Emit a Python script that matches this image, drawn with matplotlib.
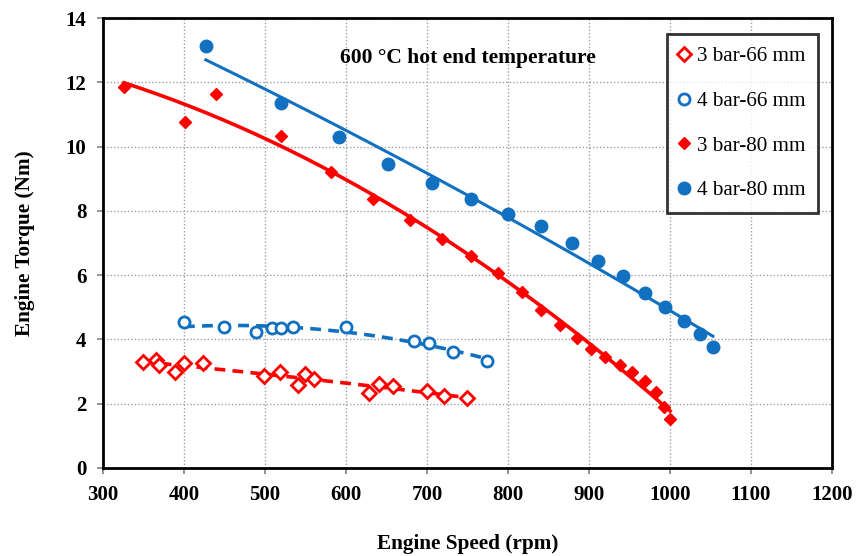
import numpy as np
import matplotlib
matplotlib.use("Agg")
import matplotlib.pyplot as plt

plt.rcParams['font.family'] = ['Liberation Serif', 'DejaVu Serif']

# 3 bar-66 mm (open diamonds)
x_3b66 = [349, 366, 369, 389, 400, 423, 499, 518, 541, 550, 560, 628, 641, 658, 700, 721, 750]
y_3b66 = [3.30, 3.36, 3.20, 2.99, 3.27, 3.27, 2.86, 2.99, 2.58, 2.92, 2.77, 2.34, 2.61, 2.56, 2.40, 2.24, 2.18]

# 4 bar-66 mm (open circles)
x_4b66 = [400, 449, 489, 509, 520, 534, 600, 684, 703, 732, 774]
y_4b66 = [4.54, 4.39, 4.23, 4.36, 4.36, 4.39, 4.39, 3.95, 3.89, 3.61, 3.33]

# 3 bar-80 mm (filled diamonds)
x_3b80 = [326, 401, 439, 520, 581, 633, 679, 718, 754, 788, 817, 841, 864, 885, 902, 920, 938, 953, 969, 983, 993, 1000]
y_3b80 = [11.85, 10.77, 11.64, 10.33, 9.21, 8.37, 7.72, 7.12, 6.60, 6.07, 5.48, 4.92, 4.45, 4.04, 3.70, 3.45, 3.20, 2.99, 2.71, 2.36, 1.90, 1.52]

# 4 bar-80 mm (filled circles)
x_4b80 = [427, 520, 591, 652, 706, 754, 800, 841, 879, 911, 942, 969, 994, 1017, 1037, 1053]
y_4b80 = [13.13, 11.36, 10.30, 9.46, 8.87, 8.37, 7.90, 7.53, 7.00, 6.44, 5.97, 5.44, 5.00, 4.57, 4.17, 3.76]

RED = '#ff0000'
BLUE = '#1170c0'

fig = plt.figure(figsize=(8.58, 5.56), dpi=100)
ax = fig.add_axes([0.120, 0.1583, 0.8497, 0.8093])


def trend(x, y, deg):
    x = np.asarray(x, float)
    y = np.asarray(y, float)
    p = np.polyfit(x, y, deg)
    xs = np.linspace(x.min(), x.max(), 200)
    return xs, np.polyval(p, xs)


# trend lines
xs, ys = trend(x_3b80, y_3b80, 2)
ax.plot(xs, ys, color=RED, lw=2.6, zorder=3)
xs, ys = trend(x_4b80, y_4b80, 2)
ax.plot(xs, ys, color=BLUE, lw=2.2, zorder=3)
xs, ys = trend(x_3b66, y_3b66, 2)
ax.plot(xs, ys, color=RED, lw=2.6, ls=(0, (3, 2)), zorder=3)
xs, ys = trend(x_4b66, y_4b66, 2)
ax.plot(xs, ys, color=BLUE, lw=2.6, ls=(0, (3, 2)), zorder=3)

# markers
ax.plot(x_3b66, y_3b66, ls='none', marker='D', ms=7.5, mfc='white', mec=RED, mew=2,
        label='3 bar-66 mm', zorder=4)
ax.plot(x_4b66, y_4b66, ls='none', marker='o', ms=8, mfc='white', mec=BLUE, mew=2,
        label='4 bar-66 mm', zorder=4)
ax.plot(x_3b80, y_3b80, ls='none', marker='D', ms=6.5, mfc=RED, mec=RED,
        label='3 bar-80 mm', zorder=4)
ax.plot(x_4b80, y_4b80, ls='none', marker='o', ms=9, mfc=BLUE, mec=BLUE,
        label='4 bar-80 mm', zorder=4)

ax.set_xlim(300, 1200)
ax.set_ylim(0, 14)
ax.set_xticks(np.arange(300, 1201, 100))
ax.set_yticks(np.arange(0, 15, 2))
ax.grid(True, color='#a0a0a0', ls=(0, (1, 1.5)), lw=1)
ax.set_axisbelow(True)
for s in ax.spines.values():
    s.set_linewidth(2)
    s.set_color('black')
ax.tick_params(direction='out', length=4, width=1.2, color='#808080', labelsize=15, pad=8)
for lab in ax.get_xticklabels() + ax.get_yticklabels():
    lab.set_fontweight('bold')

ax.set_xlabel('Engine Speed (rpm)', fontsize=15.3, fontweight='bold', labelpad=21)
ax.set_ylabel('Engine Torque (Nm)', fontsize=15.3, fontweight='bold', labelpad=22)

ax.text(0.50, 0.912, '600 °C hot end temperature', transform=ax.transAxes,
        ha='center', va='center', fontsize=15.5, fontweight='bold')

leg = ax.legend(loc='upper right', bbox_to_anchor=(0.981, 0.965), borderaxespad=0,
                fontsize=15.2, frameon=True, fancybox=False, edgecolor='black',
                handlelength=0.4, handletextpad=0.4, labelspacing=1.18,
                borderpad=0.6, numpoints=1)
leg.get_frame().set_linewidth(2)

fig.savefig('out.png', dpi=100)
